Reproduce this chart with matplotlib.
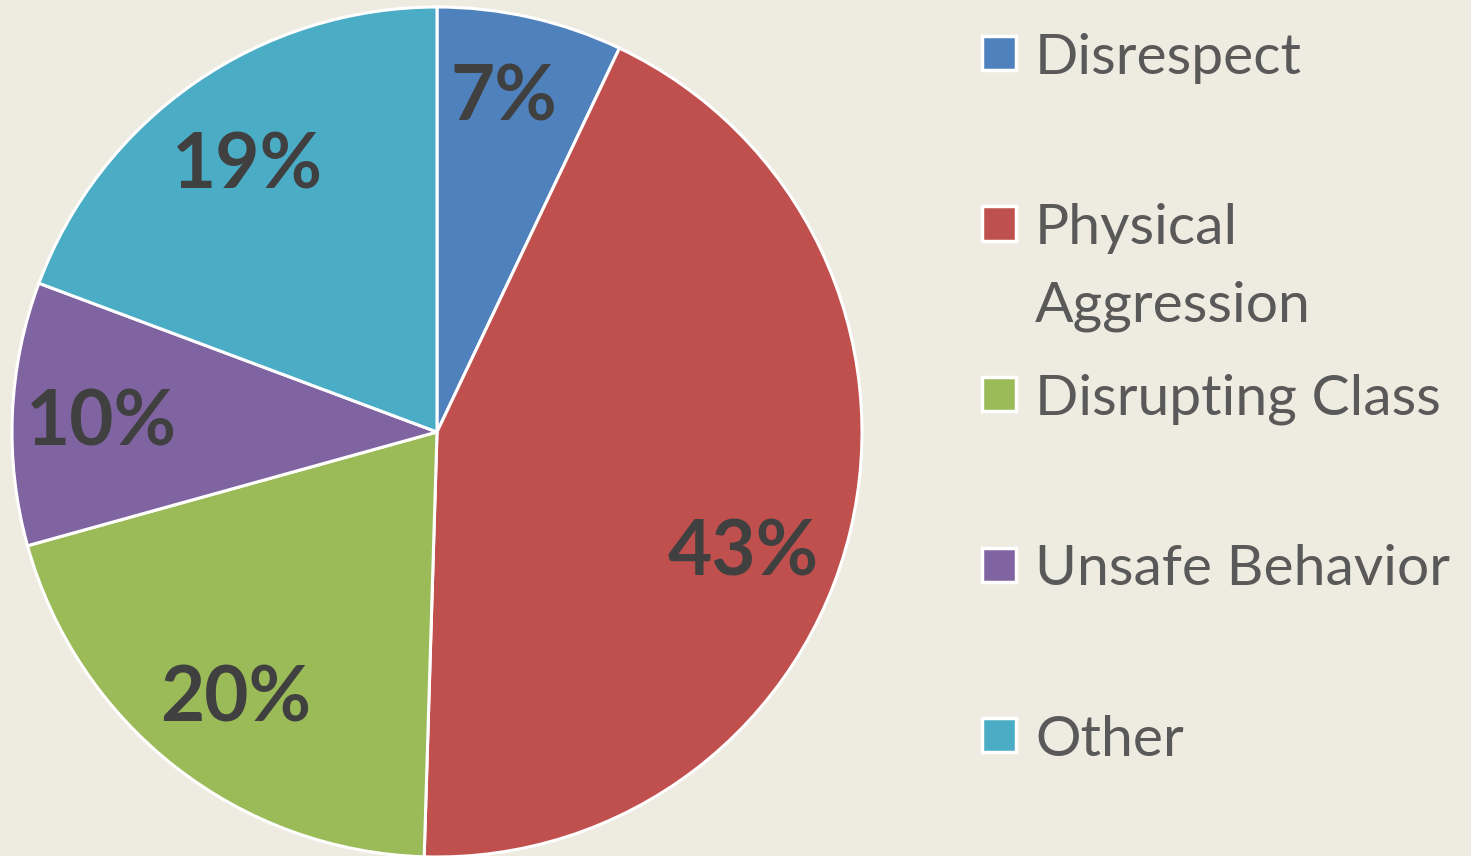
import matplotlib
matplotlib.use("Agg")
import matplotlib.pyplot as plt
from matplotlib.patches import Rectangle
import numpy as np

# Data (percent of incidents)
categories = ["Disrespect", "Physical\nAggression", "Disrupting Class", "Unsafe Behavior", "Other"]
values = [7.06, 43.4, 20.2, 10.0, 19.3]
pct_labels = ["7%", "43%", "20%", "10%", "19%"]
colors = ["#4F81BD", "#C0504D", "#9BBB59", "#8064A2", "#4BACC6"]

# label placement (fraction of radius, angle nudge in degrees)
label_dist = [0.815, 0.77, 0.775, 0.79, 0.78]
label_shift = [1.5, -7.0, 0.5, 0.0, 0.0]

bg = "#EEECE1"
W, H = 1471, 856

fig = plt.figure(figsize=(W / 100, H / 100), dpi=100, facecolor=bg)

# pie axes: centre (437, 432) px, radius 425 px
cx, cy, r = 437, 432, 425
ax = fig.add_axes([(cx - r) / W, (H - cy - r) / H, 2 * r / W, 2 * r / H])
ax.set_facecolor(bg)

wedges, texts = ax.pie(values, colors=colors, startangle=90, counterclock=False,
                       radius=1.0, wedgeprops=dict(edgecolor="white", linewidth=2.2))
ax.set_xlim(-1, 1)
ax.set_ylim(-1, 1)
ax.set_aspect("equal")
ax.axis("off")

# percentage labels inside the wedges
for w, lab, d, s in zip(wedges, pct_labels, label_dist, label_shift):
    ang = np.deg2rad((w.theta1 + w.theta2) / 2 + s)
    ax.text(d * np.cos(ang), d * np.sin(ang) - 0.015, lab, ha="center", va="center",
            fontsize=55, fontweight="bold", color="#404040", family="Lato")

# legend drawn by hand, one slot of ~170 px per entry
x_mark, x_text = 999, 1035
y0, step, line_h = 53, 170.5, 78
sq = 34
for i, (name, col) in enumerate(zip(categories, colors)):
    y = y0 + i * step
    fig.patches.append(Rectangle(((x_mark - sq / 2) / W, (H - y - sq / 2) / H), sq / W, sq / H,
                                 transform=fig.transFigure, facecolor=col,
                                 edgecolor="white", linewidth=2.5))
    for j, line in enumerate(name.split("\n")):
        fig.text(x_text / W, (H - y - j * line_h) / H, line, ha="left", va="center_baseline",
                 fontsize=41, color="#595959", family="Lato")

fig.savefig("out.png", dpi=100, facecolor=bg)
